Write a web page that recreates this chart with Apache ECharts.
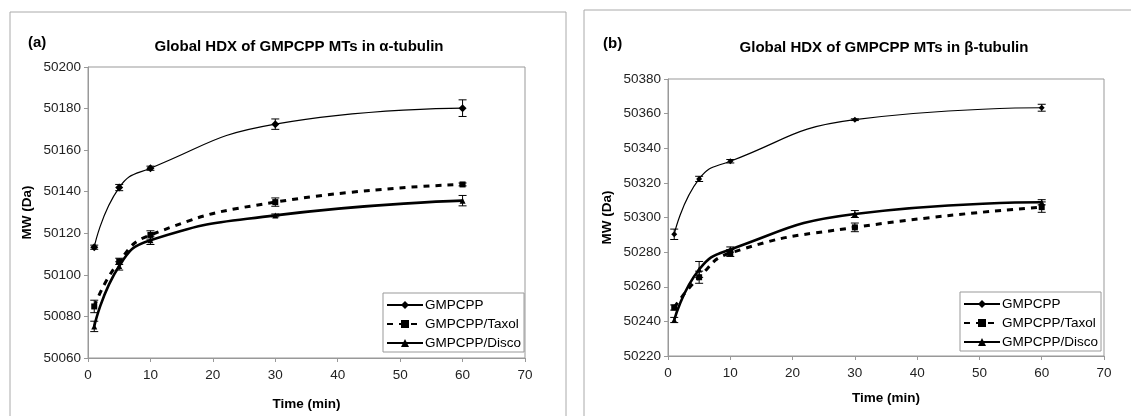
<!DOCTYPE html>
<html><head><meta charset="utf-8">
<script src="https://cdn.jsdelivr.net/npm/echarts@6/dist/echarts.min.js"></script>
<style>html,body{margin:0;padding:0;background:#fff}#c{width:1131px;height:416px}</style>
</head><body><div id="c"></div>
<script>
const times = [1, 5, 10, 30, 60];
const seriesNames = ['GMPCPP', 'GMPCPP/Taxol', 'GMPCPP/Disco'];
const alphaGMPCPP = [50113.3, 50142, 50151.3, 50172.5, 50180.2];
const alphaGMPCPPErr = [1, 1.5, 1, 2.5, 4];
const alphaTaxol = [50084.8, 50106.5, 50119.2, 50135, 50143.5];
const alphaTaxolErr = [3, 1.5, 2, 2, 0.7];
const alphaDisco = [50075.2, 50104.3, 50116.6, 50128.6, 50135.7];
const alphaDiscoErr = [2.5, 2, 2, 0.7, 2.5];
const betaGMPCPP = [50290.3, 50322.3, 50332.5, 50356.5, 50363.4];
const betaGMPCPPErr = [3, 1.5, 1, 0.5, 2];
const betaTaxol = [50248, 50265.5, 50279.5, 50294.3, 50306];
const betaTaxolErr = [1.5, 3.5, 2, 2.5, 3];
const betaDisco = [50240.8, 50270, 50281.5, 50302, 50308.8];
const betaDiscoErr = [1.5, 4.6, 1.5, 2, 1.5];

const FONT = '"Liberation Sans", Arial, sans-serif';
const chart = echarts.init(document.getElementById('c'), null, {renderer: 'canvas'});

function pairs(vals) { return times.map((t, i) => [t, vals[i]]); }

function errSeries(name, idx, vals, errs) {
  return {
    type: 'custom', name: name + ' err', xAxisIndex: idx, yAxisIndex: idx,
    data: times.map((t, i) => [t, vals[i] - errs[i], vals[i] + errs[i]]),
    encode: {x: 0, y: [1, 2]}, z: 5, silent: true,
    renderItem: function (params, api) {
      const lo = api.coord([api.value(0), api.value(1)]);
      const hi = api.coord([api.value(0), api.value(2)]);
      const w = 4;
      const st = {stroke: '#000', lineWidth: 1};
      return {type: 'group', children: [
        {type: 'line', shape: {x1: lo[0], y1: lo[1], x2: hi[0], y2: hi[1]}, style: st},
        {type: 'line', shape: {x1: lo[0] - w, y1: lo[1], x2: lo[0] + w, y2: lo[1]}, style: st},
        {type: 'line', shape: {x1: hi[0] - w, y1: hi[1], x2: hi[0] + w, y2: hi[1]}, style: st}
      ]};
    }
  };
}

function lineSeries(kind, idx, vals) {
  const base = {
    type: 'line', name: seriesNames[kind], xAxisIndex: idx, yAxisIndex: idx,
    data: pairs(vals), smooth: 0.5, z: 4,
    itemStyle: {color: '#000'}, emphasis: {disabled: true}
  };
  if (kind === 0) {
    base.symbol = 'diamond'; base.symbolSize = idx === 0 ? 8 : 6;
    base.lineStyle = {color: '#000', width: 1.2};
  } else if (kind === 1) {
    base.symbol = 'rect'; base.symbolSize = 6;
    base.lineStyle = {color: '#000', width: 3, type: [6, 6]};
  } else {
    base.symbol = 'triangle'; base.symbolSize = 6;
    base.lineStyle = {color: '#000', width: 2.6};
  }
  return base;
}

function xAx(idx) {
  return {
    gridIndex: idx, type: 'value', min: 0, max: 70, interval: 10,
    name: 'Time (min)', nameLocation: 'middle', nameGap: idx === 0 ? 39 : 35,
    nameTextStyle: {fontFamily: FONT, fontWeight: 'bold', fontSize: 13.5, color: '#000'},
    axisLine: {lineStyle: {color: '#999'}},
    axisTick: {inside: false, length: 4, lineStyle: {color: '#999'}},
    axisLabel: {fontFamily: FONT, fontSize: 13.5, color: '#222', margin: 10},
    splitLine: {show: false}
  };
}
function yAx(idx, mn, mx) {
  return {
    gridIndex: idx, type: 'value', min: mn, max: mx, interval: 20,
    name: 'MW (Da)', nameLocation: 'middle', nameGap: idx === 0 ? 54 : 54, nameRotate: 90,
    nameTextStyle: {fontFamily: FONT, fontWeight: 'bold', fontSize: 13.5, color: '#000'},
    axisLine: {show: true, lineStyle: {color: '#999'}},
    axisTick: {show: true, inside: false, length: 4, lineStyle: {color: '#999'}},
    axisLabel: {fontFamily: FONT, fontSize: 13.5, color: '#222', margin: 7,
      formatter: function (v) { return String(v); }},
    splitLine: {show: false}
  };
}
function legendFor(left, top) {
  return {
    data: seriesNames, orient: 'vertical', left: left, top: top,
    backgroundColor: '#fff', borderColor: '#999', borderWidth: 1, borderRadius: 0,
    padding: [5, 3, 2, 3], itemGap: 5, itemWidth: 36, itemHeight: 10,
    selectedMode: false,
    textStyle: {fontFamily: FONT, fontSize: 13.5, color: '#000', padding: [0, 0, 0, -3]}
  };
}

const option = {
  animation: false,
  backgroundColor: '#fff',
  graphic: [
    {type: 'rect', shape: {x: 10, y: 12, width: 556, height: 430}, style: {fill: 'none', stroke: '#aaa', lineWidth: 1}, z: -10},
    {type: 'rect', shape: {x: 584, y: 10, width: 580, height: 430}, style: {fill: 'none', stroke: '#aaa', lineWidth: 1}, z: -10},
    {type: 'text', left: 28, top: 35, style: {text: '(a)', font: 'bold 15px ' + FONT, fill: '#000'}},
    {type: 'text', left: 603, top: 36, style: {text: '(b)', font: 'bold 15px ' + FONT, fill: '#000'}}
  ],
  title: [
    {text: 'Global HDX of GMPCPP MTs in α-tubulin', left: 294, top: 34, textAlign: 'center',
     textStyle: {fontFamily: FONT, fontWeight: 'bold', fontSize: 15, color: '#000'}},
    {text: 'Global HDX of GMPCPP MTs in β-tubulin', left: 879, top: 35, textAlign: 'center',
     textStyle: {fontFamily: FONT, fontWeight: 'bold', fontSize: 15, color: '#000'}}
  ],
  legend: [legendFor(383, 293), legendFor(960, 292)],
  grid: [
    {left: 88, top: 67, width: 437, height: 292, show: true, borderColor: '#999', borderWidth: 1, backgroundColor: '#fff'},
    {left: 668, top: 79, width: 436, height: 277, show: true, borderColor: '#999', borderWidth: 1, backgroundColor: '#fff'}
  ],
  xAxis: [xAx(0), xAx(1)],
  yAxis: [yAx(0, 50060, 50200), yAx(1, 50220, 50380)],
  series: [
    lineSeries(0, 0, alphaGMPCPP), lineSeries(1, 0, alphaTaxol), lineSeries(2, 0, alphaDisco),
    lineSeries(0, 1, betaGMPCPP), lineSeries(1, 1, betaTaxol), lineSeries(2, 1, betaDisco),
    errSeries('GMPCPP a', 0, alphaGMPCPP, alphaGMPCPPErr),
    errSeries('Taxol a', 0, alphaTaxol, alphaTaxolErr),
    errSeries('Disco a', 0, alphaDisco, alphaDiscoErr),
    errSeries('GMPCPP b', 1, betaGMPCPP, betaGMPCPPErr),
    errSeries('Taxol b', 1, betaTaxol, betaTaxolErr),
    errSeries('Disco b', 1, betaDisco, betaDiscoErr)
  ]
};
chart.setOption(option);
</script></body></html>
